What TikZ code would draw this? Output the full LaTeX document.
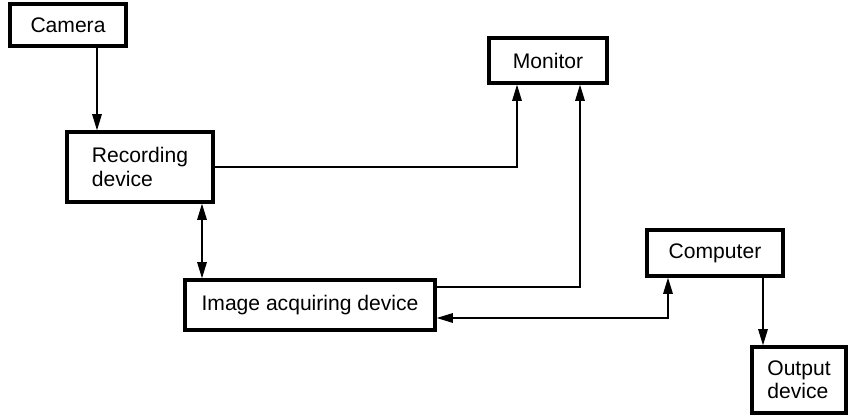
\documentclass[tikz,border=0pt]{standalone}
\usepackage{fontspec}
\setmainfont{Liberation Sans}
\usepackage{tikz}
\usetikzlibrary{arrows.meta, positioning}
\tikzstyle{device} = [rectangle, draw=black, line width=2.6pt, align=left, font=\fontsize{18}{20}\selectfont, inner sep=0pt]
\tikzstyle{arrow} = [line width=1.8pt,-{Triangle[length=14pt,width=8pt]}]
\tikzstyle{dblarrow} = [line width=1.8pt,{Triangle[length=14pt,width=8pt]}-{Triangle[length=14pt,width=8pt]}]

\begin{document}
\begin{tikzpicture}[node distance=4cm]
\useasboundingbox (0,0) rectangle (25.47,-12.54);

\node (camera) [device, minimum width=3.48cm, minimum height=1.26cm] at (2.04,-0.75) {Camera};
\node (recording) [device, minimum width=4.38cm, minimum height=2.1cm, below of=camera, xshift=2.16cm, yshift=-0.26cm] {Recording\\device};
\node (monitor) [device, minimum width=3.54cm, minimum height=1.35cm, right of=camera, xshift=10.4cm, yshift=-1.065cm] {Monitor};
\node (image) [device, minimum width=7.5cm, minimum height=1.5cm, below of=recording, xshift=5.1cm, yshift=-0.14cm] {Image acquiring device};
\node (computer) [device, minimum width=4.08cm, minimum height=1.38cm, right of=image, xshift=8.15cm, yshift=1.56cm] {Computer};
\node (output) [device, minimum width=2.82cm, minimum height=1.98cm, below of=computer, xshift=2.52cm, yshift=0.19cm] {Output\\device};

\draw [arrow] ([xshift=0.87cm]camera.south) -- ([xshift=0.87cm]camera.south |- recording.north);
\draw [arrow] (recording.east) -| ([xshift=-0.93cm]monitor.south);
\draw [dblarrow] ([xshift=1.86cm]recording.south) -- ([xshift=1.86cm]recording.south |- image.north);
\draw [arrow] ([yshift=0.54cm]image.east) -| ([xshift=0.96cm]monitor.south);
\draw [dblarrow] ([yshift=-0.39cm]image.east) -| ([xshift=-1.41cm]computer.south);
\draw [arrow] ([xshift=1.44cm]computer.south) -- ([xshift=1.44cm]computer.south |- output.north);

\end{tikzpicture}
\end{document}
